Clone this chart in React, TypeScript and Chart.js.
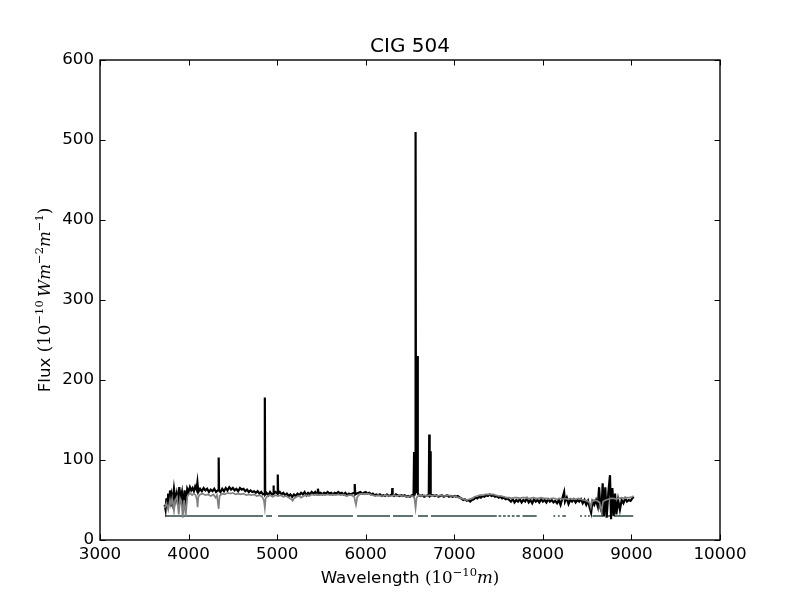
import React, { useEffect, useRef } from 'react';
import { Chart, registerables } from 'chart.js';

Chart.register(...registerables);

// observed spectrum [wavelength, flux]
const observed: [number, number][] = [
  [3730, 44], [3740, 38], [3750, 52], [3760, 40], [3770, 58], [3780, 45], [3790, 62], [3800, 42],
  [3810, 55], [3820, 48], [3835, 64], [3850, 50], [3865, 58], [3880, 44], [3895, 66], [3910, 52],
  [3925, 60], [3940, 40], [3955, 62], [3968, 42], [3985, 64], [4000, 60], [4015, 66], [4030, 62],
  [4045, 65], [4060, 61], [4075, 67], [4090, 63], [4100, 72], [4110, 60], [4130, 64], [4150, 61],
  [4170, 65], [4190, 62], [4210, 64], [4230, 60], [4250, 63], [4270, 61], [4290, 64], [4310, 60],
  [4330, 62], [4337, 62], [4340, 103], [4344, 62], [4360, 60], [4380, 64], [4400, 61], [4420, 65],
  [4440, 62], [4460, 66], [4480, 63], [4500, 65], [4520, 62], [4540, 64], [4560, 61], [4580, 65],
  [4600, 63], [4620, 64], [4640, 61], [4660, 63], [4680, 60], [4700, 62], [4720, 60], [4740, 61],
  [4760, 59], [4780, 61], [4800, 58], [4820, 60], [4840, 57], [4857, 58], [4861, 178], [4865, 57],
  [4880, 59], [4900, 56], [4920, 60], [4940, 57], [4956, 58], [4959, 68], [4962, 58], [4980, 60],
  [5003, 58], [5007, 82], [5011, 58], [5030, 60], [5050, 57], [5070, 59], [5090, 56], [5110, 58],
  [5130, 55], [5150, 57], [5170, 54], [5190, 57], [5210, 55], [5230, 58], [5250, 56], [5270, 59],
  [5290, 57], [5310, 60], [5330, 56], [5350, 59], [5370, 57], [5390, 60], [5410, 58], [5430, 60],
  [5450, 57], [5460, 64], [5470, 58], [5490, 59], [5510, 57], [5530, 59], [5550, 58], [5570, 60],
  [5590, 58], [5610, 59], [5630, 57], [5650, 59], [5670, 58], [5690, 60], [5710, 58], [5730, 59],
  [5750, 57], [5770, 59], [5790, 56], [5810, 58], [5830, 57], [5850, 58], [5870, 59], [5876, 70],
  [5882, 57], [5900, 58], [5920, 59], [5940, 60], [5960, 58], [5980, 59], [6000, 60], [6020, 58],
  [6040, 59], [6060, 57], [6080, 58], [6100, 56], [6120, 57], [6140, 56], [6160, 57], [6180, 55],
  [6200, 56], [6220, 55], [6240, 57], [6260, 55], [6280, 56], [6296, 57], [6300, 65], [6304, 56],
  [6320, 55], [6340, 57], [6360, 56], [6380, 55], [6400, 56], [6420, 55], [6440, 56], [6460, 54],
  [6480, 55], [6500, 54], [6520, 56], [6540, 55], [6546, 110], [6552, 56], [6558, 60], [6563, 510],
  [6568, 60], [6578, 64], [6583, 230], [6588, 58], [6600, 56], [6620, 55], [6640, 56], [6660, 54],
  [6680, 55], [6700, 56], [6712, 55], [6717, 132], [6722, 56], [6727, 55], [6731, 111], [6736, 55],
  [6760, 56], [6780, 55], [6800, 56], [6820, 54], [6840, 55], [6860, 56], [6880, 54], [6900, 55],
  [6920, 56], [6940, 54], [6960, 55], [6980, 54], [7000, 55], [7020, 54], [7040, 55], [7060, 53],
  [7080, 52], [7100, 50], [7120, 51], [7140, 49], [7160, 50], [7180, 48], [7200, 50], [7220, 51],
  [7240, 53], [7260, 52], [7280, 54], [7300, 53], [7320, 55], [7340, 54], [7360, 56], [7380, 55],
  [7400, 57], [7420, 55], [7440, 56], [7460, 54], [7480, 55], [7500, 53], [7520, 54], [7540, 52],
  [7560, 53], [7580, 51], [7600, 52], [7620, 50], [7640, 48], [7660, 51], [7680, 47], [7700, 50],
  [7720, 48], [7740, 51], [7760, 47], [7780, 50], [7800, 48], [7820, 52], [7840, 47], [7860, 50],
  [7880, 46], [7900, 51], [7920, 48], [7940, 50], [7960, 47], [7980, 51], [8000, 48], [8020, 50],
  [8040, 47], [8060, 51], [8080, 48], [8100, 50], [8120, 47], [8140, 49], [8160, 46], [8180, 50],
  [8200, 44], [8220, 52], [8240, 60], [8250, 48], [8270, 53], [8290, 45], [8310, 50], [8330, 48],
  [8350, 51], [8370, 47], [8390, 50], [8410, 48], [8430, 51], [8450, 46], [8470, 50], [8490, 44],
  [8510, 49], [8530, 40], [8545, 34], [8560, 48], [8580, 44], [8600, 50], [8620, 42], [8635, 66],
  [8650, 40], [8662, 36], [8675, 71], [8690, 30], [8705, 66], [8720, 28], [8740, 60], [8758, 81],
  [8770, 26], [8785, 65], [8800, 30], [8815, 58], [8830, 32], [8850, 50], [8870, 38], [8890, 50],
  [8910, 46], [8930, 52], [8950, 48], [8970, 50], [8990, 49], [9010, 52], [9025, 54],
];

// stellar model fit [wavelength, flux]
const model: [number, number][] = [
  [3730, 40], [3750, 46], [3770, 38], [3790, 50], [3800, 44], [3815, 52], [3835, 36], [3850, 50],
  [3870, 54], [3889, 32], [3905, 52], [3920, 48], [3934, 28], [3950, 50], [3968, 30], [3985, 54],
  [4000, 57], [4020, 58], [4040, 56], [4060, 58], [4080, 56], [4095, 50], [4102, 41], [4110, 54],
  [4130, 57], [4160, 58], [4190, 56], [4220, 57], [4250, 55], [4280, 57], [4305, 53], [4320, 56],
  [4340, 39], [4350, 55], [4380, 58], [4410, 57], [4440, 59], [4470, 58], [4500, 59], [4530, 57],
  [4560, 58], [4590, 57], [4620, 58], [4650, 56], [4680, 57], [4710, 56], [4740, 57], [4770, 55],
  [4800, 56], [4830, 54], [4850, 50], [4861, 40], [4870, 52], [4890, 55], [4920, 56], [4950, 54],
  [4980, 56], [5010, 55], [5040, 56], [5070, 54], [5100, 55], [5130, 53], [5160, 51], [5175, 49],
  [5190, 52], [5220, 54], [5250, 55], [5270, 53], [5300, 55], [5330, 56], [5360, 55], [5390, 57],
  [5420, 56], [5450, 57], [5480, 56], [5510, 57], [5540, 56], [5570, 57], [5600, 56], [5630, 57],
  [5660, 56], [5690, 57], [5720, 56], [5750, 57], [5780, 55], [5810, 56], [5840, 56], [5870, 54],
  [5890, 44], [5905, 54], [5930, 57], [5960, 58], [5990, 57], [6020, 58], [6050, 57], [6080, 56],
  [6110, 55], [6140, 56], [6170, 55], [6200, 55], [6230, 56], [6260, 55], [6290, 55], [6320, 56],
  [6350, 55], [6380, 56], [6410, 55], [6440, 55], [6470, 54], [6500, 55], [6530, 55], [6550, 52],
  [6563, 40], [6575, 53], [6600, 56], [6630, 55], [6660, 56], [6690, 55], [6720, 56], [6750, 55],
  [6780, 56], [6810, 55], [6840, 56], [6870, 55], [6900, 55], [6930, 56], [6960, 55], [6990, 55],
  [7020, 54], [7050, 53], [7080, 52], [7110, 51], [7140, 50], [7170, 51], [7200, 52], [7230, 54],
  [7260, 55], [7290, 56], [7320, 56], [7350, 57], [7380, 57], [7410, 57], [7440, 57], [7470, 56],
  [7500, 55], [7530, 55], [7560, 54], [7590, 53], [7620, 53], [7650, 52], [7680, 53], [7710, 53],
  [7740, 52], [7770, 53], [7800, 53], [7830, 52], [7860, 52], [7890, 53], [7920, 52], [7950, 52],
  [7980, 53], [8010, 52], [8040, 52], [8070, 51], [8100, 52], [8130, 52], [8160, 51], [8190, 52],
  [8220, 51], [8250, 52], [8280, 51], [8310, 52], [8340, 51], [8370, 51], [8400, 52], [8430, 51],
  [8460, 50], [8500, 49], [8530, 46], [8542, 41], [8555, 48], [8580, 50], [8610, 49], [8640, 47],
  [8662, 36], [8680, 48], [8710, 50], [8740, 51], [8770, 52], [8800, 52], [8830, 51], [8860, 52],
  [8890, 53], [8920, 52], [8950, 53], [8980, 53], [9010, 54], [9025, 55],
];

// masked (fitted) wavelength ranges, drawn at a constant level
const maskSegments: [number, number][] = [
  [3734, 4840], [4874, 4942], [5010, 5856], [5902, 6274], [6308, 6534], [6590, 6703],
  [6737, 7480], [7500, 7530], [7550, 7580], [7600, 7630], [7650, 7680], [7700, 7740],
  [7770, 7930], [8120, 8140], [8170, 8190], [8220, 8260], [8420, 8440], [8470, 8490],
  [8510, 8530], [8560, 8700], [8720, 8780], [8800, 9020],
];
const maskLevel = 30;

const xTicks = [3000, 4000, 5000, 6000, 7000, 8000, 9000, 10000];
const yTicks = [0, 100, 200, 300, 400, 500, 600];

const SANS = '"DejaVu Sans", sans-serif';
const SERIF = '"DejaVu Serif", "Liberation Serif", serif';
const FS = 16.7;

type Run = { text: string; font: string; rise?: number };

const normal = (s: number) => `${s}px ${SERIF}`;
const italic = (s: number) => `italic ${s}px ${SERIF}`;
const sans = (s: number) => `${s}px ${SANS}`;
const SUP = 11.5;

const xLabelRuns: Run[] = [
  { text: 'Wavelength ', font: sans(FS) },
  { text: '(10', font: normal(FS) },
  { text: '\u221210', font: normal(SUP), rise: 7 },
  { text: 'm', font: italic(FS) },
  { text: ')', font: normal(FS) },
];

const yLabelRuns: Run[] = [
  { text: 'Flux ', font: sans(FS) },
  { text: '(10', font: normal(FS) },
  { text: '\u221210', font: normal(SUP), rise: 7 },
  { text: '\u2009', font: normal(FS) },
  { text: 'Wm', font: italic(FS) },
  { text: '\u22122', font: normal(SUP), rise: 7 },
  { text: 'm', font: italic(FS) },
  { text: '\u22121', font: normal(SUP), rise: 7 },
  { text: ')', font: normal(FS) },
];

function drawRuns(ctx: CanvasRenderingContext2D, runs: Run[], x: number, y: number) {
  const widths = runs.map((r) => {
    ctx.font = r.font;
    return ctx.measureText(r.text).width;
  });
  const total = widths.reduce((a, b) => a + b, 0);
  let cx = x - total / 2;
  runs.forEach((r, i) => {
    ctx.font = r.font;
    ctx.fillText(r.text, cx, y - (r.rise || 0));
    cx += widths[i];
  });
}

const framePlugin = {
  id: 'mplFrame',
  afterDraw(chart: any) {
    const { ctx, chartArea: a, scales } = chart;
    ctx.save();
    ctx.strokeStyle = '#000';
    ctx.fillStyle = '#000';
    // inward ticks on all four sides
    ctx.lineWidth = 1;
    const len = 5.5;
    ctx.beginPath();
    xTicks.forEach((v) => {
      const px = Math.round(scales.x.getPixelForValue(v)) + 0.5;
      ctx.moveTo(px, a.bottom);
      ctx.lineTo(px, a.bottom - len);
      ctx.moveTo(px, a.top);
      ctx.lineTo(px, a.top + len);
    });
    yTicks.forEach((v) => {
      const py = Math.round(scales.y.getPixelForValue(v)) + 0.5;
      ctx.moveTo(a.left, py);
      ctx.lineTo(a.left + len, py);
      ctx.moveTo(a.right, py);
      ctx.lineTo(a.right - len, py);
    });
    ctx.stroke();
    ctx.lineWidth = 1.4;
    ctx.strokeRect(a.left, a.top, a.right - a.left, a.bottom - a.top);

    // title
    ctx.textAlign = 'center';
    ctx.textBaseline = 'alphabetic';
    ctx.font = `20px ${SANS}`;
    ctx.fillText('CIG 504', (a.left + a.right) / 2, 52);

    // axis labels
    ctx.textAlign = 'left';
    drawRuns(ctx, xLabelRuns, (a.left + a.right) / 2, 583);
    ctx.translate(50, (a.top + a.bottom) / 2);
    ctx.rotate(-Math.PI / 2);
    drawRuns(ctx, yLabelRuns, 0, 0);
    ctx.restore();
  },
};

const App: React.FC = () => {
  const canvasRef = useRef<HTMLCanvasElement>(null);
  const chartRef = useRef<Chart | null>(null);

  useEffect(() => {
    document.body.style.margin = '0';
    const ctx = canvasRef.current?.getContext('2d');
    if (!ctx) return;
    if (chartRef.current) chartRef.current.destroy();

    const maskData: { x: number; y: number | null }[] = [];
    maskSegments.forEach(([s, e]) => {
      maskData.push({ x: s, y: maskLevel }, { x: e, y: maskLevel }, { x: e + 1, y: null });
    });

    chartRef.current = new Chart(ctx, {
      type: 'line',
      data: {
        datasets: [
          {
            label: 'model',
            data: model.map(([x, y]) => ({ x, y })),
            borderColor: '#808080',
            borderWidth: 1.7,
            pointRadius: 0,
            tension: 0,
            order: 1,
          },
          {
            label: 'observed',
            data: observed.map(([x, y]) => ({ x, y })),
            borderColor: '#000000',
            borderWidth: 2.2,
            pointRadius: 0,
            tension: 0,
            order: 2,
          },
          {
            label: 'mask',
            data: maskData,
            borderColor: '#5f7373',
            borderWidth: 2,
            pointRadius: 0,
            spanGaps: false,
            order: 3,
          },
        ],
      },
      options: {
        responsive: false,
        animation: false,
        events: [],
        layout: { padding: { top: 60, right: 80, left: 0, bottom: 0 } },
        plugins: {
          legend: { display: false },
          title: { display: false },
          tooltip: { enabled: false },
        },
        scales: {
          x: {
            type: 'linear',
            min: 3000,
            max: 10000,
            afterFit: (s: any) => {
              s.height = 60;
            },
            afterBuildTicks: (s: any) => {
              s.ticks = xTicks.map((v) => ({ value: v }));
            },
            grid: { display: false, drawTicks: false },
            border: { display: false },
            ticks: {
              autoSkip: false,
              maxRotation: 0,
              padding: 5,
              color: '#000',
              font: { family: SANS, size: FS },
              callback: (v: any) => String(v),
            },
          },
          y: {
            type: 'linear',
            min: 0,
            max: 600,
            afterFit: (s: any) => {
              s.width = 100;
            },
            afterBuildTicks: (s: any) => {
              s.ticks = yTicks.map((v) => ({ value: v }));
            },
            grid: { display: false, drawTicks: false },
            border: { display: false },
            ticks: {
              padding: 6,
              color: '#000',
              font: { family: SANS, size: FS },
              callback: (v: any) => String(v),
            },
          },
        },
      },
      plugins: [framePlugin],
    });

    return () => {
      if (chartRef.current) {
        chartRef.current.destroy();
        chartRef.current = null;
      }
    };
  }, []);

  return (
    <div style={{ width: 800, height: 600, background: '#fff' }}>
      <canvas ref={canvasRef} width={800} height={600} style={{ display: 'block' }} />
    </div>
  );
};

export default App;
